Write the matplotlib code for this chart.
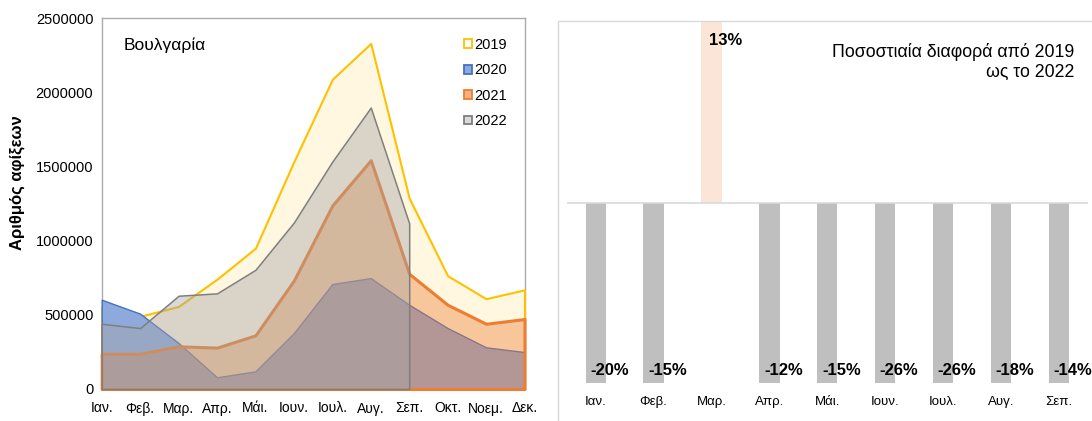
import matplotlib
matplotlib.use("Agg")
import matplotlib.pyplot as plt
from matplotlib.patches import Patch, Rectangle
from matplotlib.colors import to_rgba
import matplotlib.transforms as mtransforms

plt.rcParams['font.family'] = ['Liberation Sans', 'DejaVu Sans']

# ---------------- data ----------------
months = ['Ιαν.', 'Φεβ.', 'Μαρ.', 'Απρ.', 'Μάι.', 'Ιουν.', 'Ιουλ.', 'Αυγ.',
          'Σεπ.', 'Οκτ.', 'Νοεμ.', 'Δεκ.']
arrivals_2019 = [557000, 490000, 557000, 741000, 950000, 1534000, 2089000,
                 2331000, 1287000, 764000, 609000, 669000]
arrivals_2020 = [602000, 508000, 310000, 79000, 119000, 377000, 708000,
                 748000, 568000, 411000, 281000, 249000]
arrivals_2021 = [238000, 238000, 288000, 279000, 362000, 732000, 1238000,
                 1543000, 777000, 568000, 440000, 472000]
arrivals_2022 = [440000, 411000, 629000, 645000, 804000, 1123000, 1534000,
                 1898000, 1117000]
years = ['2019', '2020', '2021', '2022']
yticks = [0, 500000, 1000000, 1500000, 2000000, 2500000]

diff_months = ['Ιαν.', 'Φεβ.', 'Μαρ.', 'Απρ.', 'Μάι.', 'Ιουν.', 'Ιουλ.',
               'Αυγ.', 'Σεπ.']
pct_diff = [-0.20, -0.15, 0.13, -0.12, -0.15, -0.26, -0.26, -0.18, -0.14]

# ---------------- figure ----------------
W, H = 1092, 421
fig = plt.figure(figsize=(W / 100, H / 100), dpi=100)

# ---------- left: area chart ----------
axL = fig.add_axes([101.7 / W, 1 - 389 / H, (524.5 - 101.7) / W, (389 - 18.3) / H])
series = [arrivals_2019, arrivals_2020, arrivals_2021, arrivals_2022]
edge_cols = ['#FFC000', '#4472C4', '#ED7D31', '#7F7F7F']
face_cols = [to_rgba('#FFC000', 0.12), to_rgba('#8EA9DB', 1.0),
             to_rgba('#ED7D31', 0.4), to_rgba('#A5A5A5', 0.42)]
lws = [1.5, 1.0, 2.2, 1.1]
for i, (vals, ec, fc, lw) in enumerate(zip(series, edge_cols, face_cols, lws)):
    x = list(range(len(vals)))
    axL.fill_between(x, 0, vals, facecolor=fc, edgecolor=ec, linewidth=lw,
                     zorder=3 + i, clip_on=False)

axL.set_xlim(0, len(months) - 1)
axL.set_ylim(0, 2500000)
axL.set_xticks(range(len(months)), labels=months)
axL.set_yticks(yticks, labels=[str(v) for v in yticks])
axL.tick_params(axis='both', length=0, labelsize=10.5, colors='#000000')
axL.tick_params(axis='x', pad=9, labelsize=10)
axL.tick_params(axis='y', pad=6)
for s in axL.spines.values():
    s.set_color('#ABABAB')
    s.set_linewidth(1.0)

axL.text(0.051, 0.926, 'Βουλγαρία', transform=axL.transAxes, fontsize=12.5,
         va='center', ha='left')

handles = [Patch(facecolor=fc, edgecolor=ec, linewidth=1.3)
           for fc, ec in zip(['#FFFFFF', '#8EA9DB', '#F4B183', '#DBDBDB'], edge_cols)]
leg = axL.legend(handles, years, loc='upper right',
                 bbox_to_anchor=(507 / W, 1 - 38 / H), bbox_transform=fig.transFigure,
                 frameon=False, fontsize=10.5, handlelength=0.55, handleheight=0.55,
                 handletextpad=0.15, labelspacing=0.78, borderpad=0, borderaxespad=0)
leg.set_zorder(10)

fig.text(17 / W, 1 - 183 / H, 'Αριθμός αφίξεων', rotation=90, fontsize=12,
         fontweight='bold', ha='center', va='center')

# ---------- right: percentage difference bars ----------
fig.patches.append(Rectangle((557.7 / W, -0.1), 0.6, 1 - 21 / H + 0.1,
                             transform=fig.transFigure, facecolor='none',
                             edgecolor='#D9D9D9', linewidth=1.0))

axR = fig.add_axes([566.7 / W, 1 - 383.3 / H, (1088 - 566.7) / W, (383.3 - 21.7) / H])
bar_cols = ['#FBE5D6' if v > 0 else '#BFBFBF' for v in pct_diff]
axR.bar(range(len(pct_diff)), pct_diff, width=0.35, color=bar_cols, zorder=2)
axR.axhline(0, color='#D9D9D9', linewidth=1.2, zorder=3)
axR.set_xlim(-0.5, len(pct_diff) - 0.5)
axR.set_ylim(-0.1, 0.1)
axR.set_yticks([])
axR.set_xticks(range(len(diff_months)), labels=diff_months)
axR.tick_params(axis='x', length=0, pad=9, labelsize=9.5)
for s in axR.spines.values():
    s.set_visible(False)

trans = mtransforms.blended_transform_factory(axR.transData, axR.transAxes)
for i, v in enumerate(pct_diff):
    ypos = 0.949 if v > 0 else 0.036
    axR.text(i + 0.24, ypos, f'{round(v * 100):d}%', transform=trans,
             fontsize=12, fontweight='bold', ha='center', va='center', zorder=5)

fig.text(1074.3 / W, 1 - 62 / H, 'Ποσοστιαία διαφορά από 2019\nως το 2022',
         ha='right', va='center', fontsize=12.8, linespacing=1.2)

fig.savefig('out.png', dpi=100)
